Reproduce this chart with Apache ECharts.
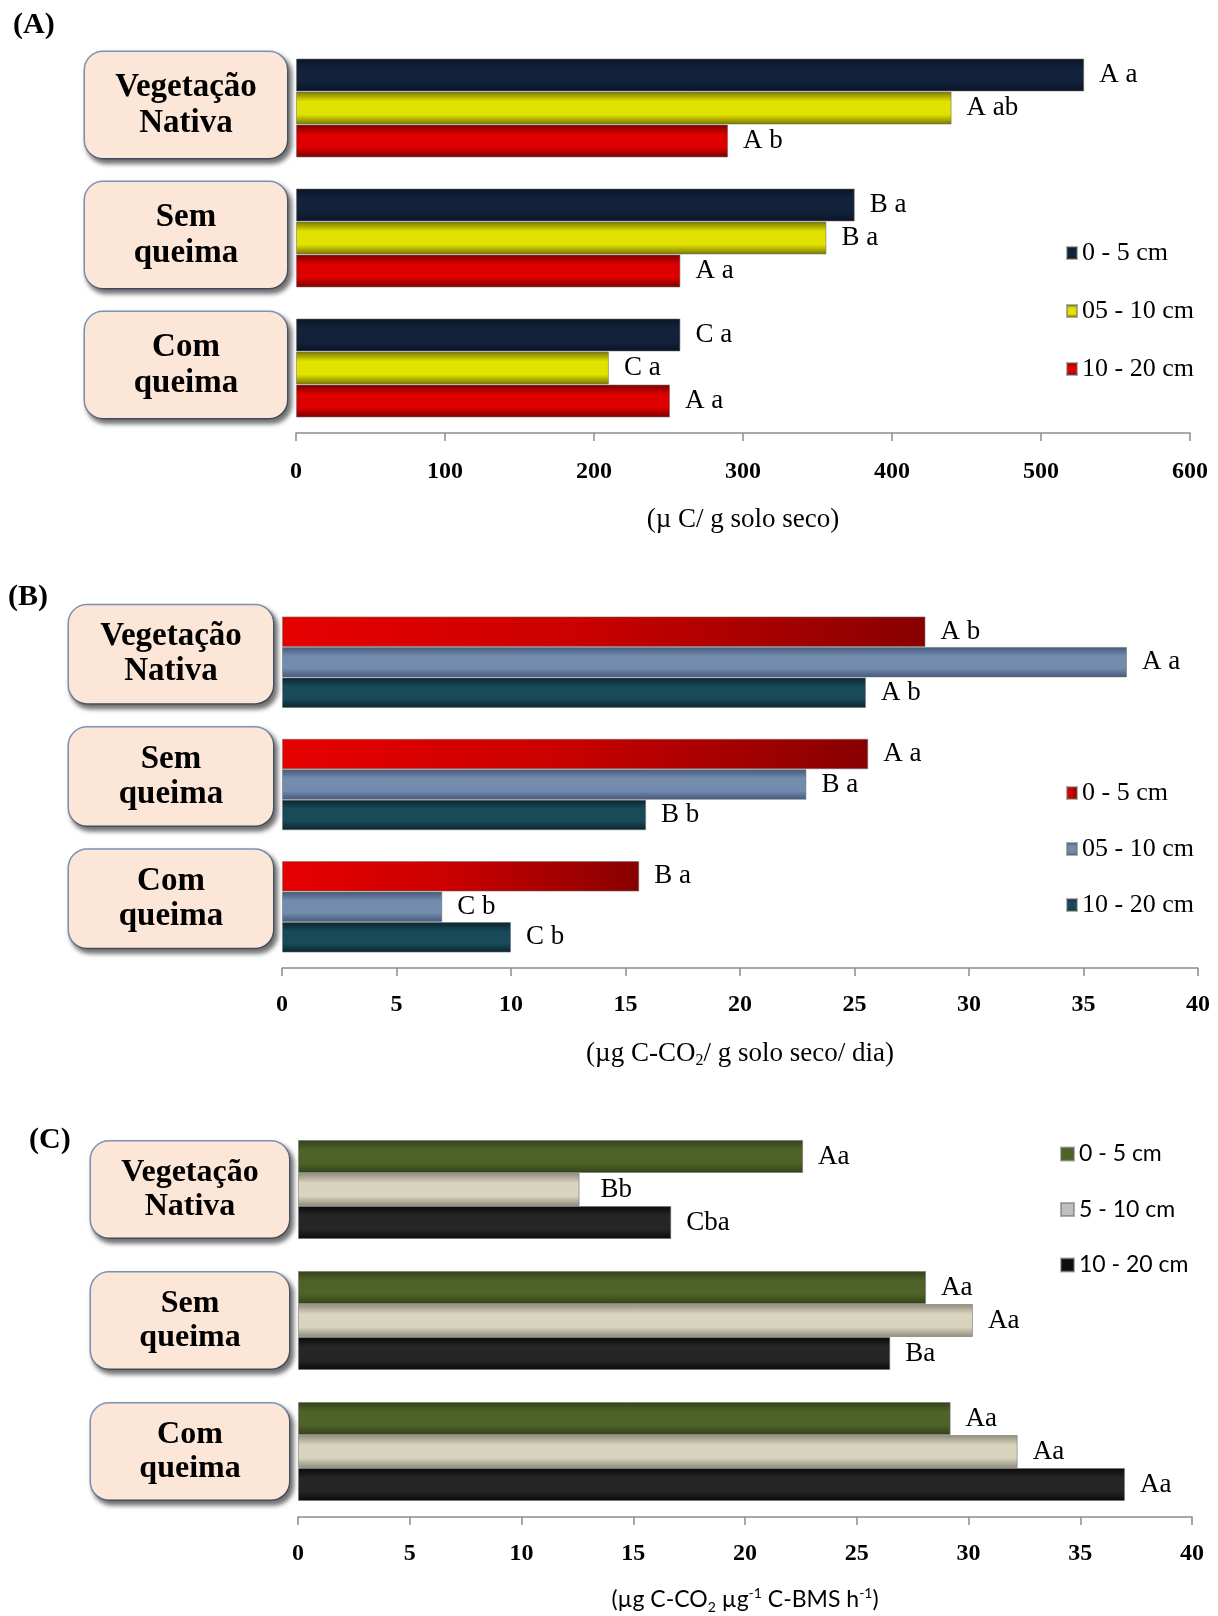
<!DOCTYPE html>
<html><head><meta charset="utf-8">
<script src="https://cdn.jsdelivr.net/npm/echarts@6/dist/echarts.min.js"></script>
<style>html,body{margin:0;padding:0;background:#fff}#c{width:1218px;height:1616px}</style>
</head><body><div id="c"></div>
<script>
// ---------- DATA ----------
const categories = ['Vegetação Nativa', 'Sem queima', 'Com queima'];
const depthA = ['0 - 5 cm', '05 - 10 cm', '10 - 20 cm'];
const depthB = ['0 - 5 cm', '05 - 10 cm', '10 - 20 cm'];
const depthC = ['0 - 5 cm', '5 - 10 cm', '10 - 20 cm'];

// Panel A (µ C/ g solo seco)
const a0_5 = [529, 375, 258];
const a5_10 = [440, 356, 210];
const a10_20 = [290, 258, 251];
const aLbl0_5 = ['A a', 'B a', 'C a'];
const aLbl5_10 = ['A ab', 'B a', 'C a'];
const aLbl10_20 = ['A b', 'A a', 'A a'];

// Panel B (µg C-CO2/ g solo seco/ dia)
const b0_5 = [28.1, 25.6, 15.6];
const b5_10 = [36.9, 22.9, 7.0];
const b10_20 = [25.5, 15.9, 10.0];
const bLbl0_5 = ['A b', 'A a', 'B a'];
const bLbl5_10 = ['A a', 'B a', 'C b'];
const bLbl10_20 = ['A b', 'B b', 'C b'];

// Panel C (µg C-CO2 µg-1 C-BMS h-1)
const c0_5 = [22.6, 28.1, 29.2];
const c5_10 = [12.6, 30.2, 32.2];
const c10_20 = [16.7, 26.5, 37.0];
const cLbl0_5 = ['Aa', 'Aa', 'Aa'];
const cLbl5_10 = ['Bb', 'Aa', 'Aa'];
const cLbl10_20 = ['Cba', 'Ba', 'Aa'];

// Axis ticks
const ticksA = [0, 100, 200, 300, 400, 500, 600];
const ticksB = [0, 5, 10, 15, 20, 25, 30, 35, 40];
const ticksC = [0, 5, 10, 15, 20, 25, 30, 35, 40];

// ---------- STYLE ----------
const SERIF = '"Liberation Serif","Times New Roman",serif';
const SANS = 'Lato,"Open Sans",sans-serif';
const G = echarts.graphic;
function vgrad(edge, mid) {
  return new G.LinearGradient(0, 0, 0, 1, [
    {offset: 0, color: edge}, {offset: 0.3, color: mid},
    {offset: 0.7, color: mid}, {offset: 1, color: edge}]);
}
const colA = [vgrad('#0a1424', '#12223b'), vgrad('#767600', '#e2e200'), vgrad('#760000', '#de0000')];
const colB = [
  new G.LinearGradient(0, 0, 1, 0, [{offset: 0, color: '#e60000'}, {offset: 0.45, color: '#cc0000'}, {offset: 1, color: '#880000'}]),
  vgrad('#44587a', '#738cae'), vgrad('#0a232c', '#184a5a')];
const colC = [vgrad('#33421a', '#4f6228'), vgrad('#8f8c7c', '#d8d4be'), vgrad('#0a0a0a', '#262626')];

function boxLabel(fs, lh, w, pv) {
  return {
    margin: 9,
    formatter: v => v.split(' ').map(s => '{t|' + s + '}').join('\n'),
    backgroundColor: '#fce6d8',
    borderColor: '#7f95b8',
    borderWidth: 1.5,
    borderRadius: 18,
    padding: [pv, 1],
    shadowColor: 'rgba(0,0,0,0.55)',
    shadowBlur: 5,
    shadowOffsetX: 3,
    shadowOffsetY: 4,
    rich: {t: {width: w, align: 'center', fontFamily: SERIF, fontWeight: 'bold', fontSize: fs, lineHeight: lh, color: '#000'}}
  };
}

function yAx(gi, fs, lh, w, pv, hideLabels) {
  const lab = boxLabel(fs, lh, w, pv);
  if (hideLabels) lab.show = false;
  return {type: 'category', gridIndex: gi, data: categories, inverse: true,
    axisLine: {show: false}, axisTick: {show: false}, axisLabel: lab};
}
function xAx(gi, ticks, margin, name, nameGap, nameStyle) {
  return {type: 'value', gridIndex: gi, min: ticks[0], max: ticks[ticks.length - 1],
    interval: ticks[1] - ticks[0],
    splitLine: {show: false},
    axisLine: {show: true, lineStyle: {color: '#8c8c8c', width: 1.5}},
    axisTick: {show: true, length: 8, lineStyle: {color: '#8c8c8c', width: 1.5}},
    axisLabel: {margin: margin, fontFamily: SERIF, fontWeight: 'bold', fontSize: 24, color: '#000'},
    name: name, nameLocation: 'middle', nameGap: nameGap, nameTextStyle: nameStyle};
}

function ser(name, vals, lbls, gi, color, bw, fontFamily, special) {
  return {
    type: 'bar', name: name, xAxisIndex: gi, yAxisIndex: gi,
    barWidth: bw, barGap: '0%',
    itemStyle: {color: color, borderColor: 'rgba(110,110,110,0.55)', borderWidth: 1},
    label: {show: true, position: 'right', distance: 15,
      formatter: p => lbls[p.dataIndex],
      fontFamily: fontFamily, fontSize: 27, color: '#000'},
    data: vals.map((v, i) => (special && special[i]) ? {value: v, label: special[i]} : v)
  };
}

const sfxB = ' ', sfxC = '  ';

const option = {
  animation: false,
  backgroundColor: '#fff',
  title: [
    {text: '(A)', left: 8, top: 5, textStyle: {fontFamily: SERIF, fontWeight: 'bold', fontSize: 30, color: '#000'}},
    {text: '(B)', left: 3, top: 577, textStyle: {fontFamily: SERIF, fontWeight: 'bold', fontSize: 30, color: '#000'}},
    {text: '(C)', left: 24, top: 1120, textStyle: {fontFamily: SERIF, fontWeight: 'bold', fontSize: 30, color: '#000'}}
  ],
  grid: [
    {left: 296, width: 894, top: 43, height: 390},
    {left: 282, width: 916, top: 601, height: 367},
    {left: 298, width: 894, top: 1124, height: 393},
    {left: 282, width: 916, top: 593, height: 367},   // label-only grid for panel B boxes
    {left: 296, width: 894, top: 40, height: 390}     // label-only grid for panel A boxes
  ],
  yAxis: [yAx(0, 33, 36, 200, 17, true), yAx(1, 33, 35, 202, 14, true), yAx(2, 32, 34, 196, 14),
          yAx(3, 33, 35, 202, 14), yAx(4, 33, 36, 200, 17)],
  xAxis: [
    xAx(0, ticksA, 27, '(µ C/ g solo seco)', 73, {fontFamily: SERIF, fontSize: 27, color: '#000'}),
    xAx(1, ticksB, 25, '{n|(µg C-CO}{s|2}{n|/ g solo seco/ dia)}', 71,
      {rich: {n: {fontFamily: SERIF, fontSize: 27, lineHeight: 30, color: '#000'},
              s: {fontFamily: SERIF, fontSize: 16, lineHeight: 16, verticalAlign: 'bottom', color: '#000'}}}),
    xAx(2, ticksC, 25, '{n|(µg C-CO}{s|2}{n| µg}{p|-1}{n| C-BMS h}{p|-1}{n|)}', 69,
      {rich: {n: {fontFamily: SANS, fontSize: 23, lineHeight: 28, color: '#000'},
              s: {fontFamily: SANS, fontSize: 14, lineHeight: 14, verticalAlign: 'bottom', color: '#000'},
              p: {fontFamily: SANS, fontSize: 14, lineHeight: 14, verticalAlign: 'top', color: '#000'}}}),
    {type: 'value', gridIndex: 3, min: 0, max: 40, show: false},
    {type: 'value', gridIndex: 4, min: 0, max: 600, show: false}
  ],
  legend: [
    {orient: 'vertical', left: 1061, top: 235, itemGap: 32, itemWidth: 10, itemHeight: 12, icon: 'rect',
      data: depthA, textStyle: {fontFamily: SERIF, fontSize: 26, lineHeight: 26, color: '#000'}},
    {orient: 'vertical', left: 1061, top: 775, itemGap: 30, itemWidth: 10, itemHeight: 12, icon: 'rect',
      data: depthB.map(n => n + sfxB), textStyle: {fontFamily: SERIF, fontSize: 26, lineHeight: 26, color: '#000'}},
    {orient: 'vertical', left: 1055, top: 1136, itemGap: 29.5, itemWidth: 13, itemHeight: 13, icon: 'rect',
      data: [{name: depthC[0] + sfxC, itemStyle: {color: '#4f6228'}},
             {name: depthC[1] + sfxC, itemStyle: {color: '#bfbfbf'}},
             {name: depthC[2] + sfxC, itemStyle: {color: '#0d0d0d'}}],
      textStyle: {fontFamily: SANS, fontSize: 23, lineHeight: 26, color: '#000'}}
  ],
  series: [
    ser(depthA[0], a0_5, aLbl0_5, 0, colA[0], 33, SERIF),
    ser(depthA[1], a5_10, aLbl5_10, 0, colA[1], 33, SERIF),
    ser(depthA[2], a10_20, aLbl10_20, 0, colA[2], 33, SERIF),
    ser(depthB[0] + sfxB, b0_5, bLbl0_5, 1, colB[0], 30.5, SERIF),
    ser(depthB[1] + sfxB, b5_10, bLbl5_10, 1, colB[1], 30.5, SERIF),
    ser(depthB[2] + sfxB, b10_20, bLbl10_20, 1, colB[2], 30.5, SERIF),
    ser(depthC[0] + sfxC, c0_5, cLbl0_5, 2, colC[0], 33, SERIF),
    ser(depthC[1] + sfxC, c5_10, cLbl5_10, 2, colC[1], 33, SERIF,
      [{backgroundColor: '#fff', padding: [3, 6, 3, 6]}, null, null]),
    ser(depthC[2] + sfxC, c10_20, cLbl10_20, 2, colC[2], 33, SERIF)
  ]
};
const chart = echarts.init(document.getElementById('c'), null, {renderer: 'canvas'});
chart.setOption(option);
</script>
</body></html>
